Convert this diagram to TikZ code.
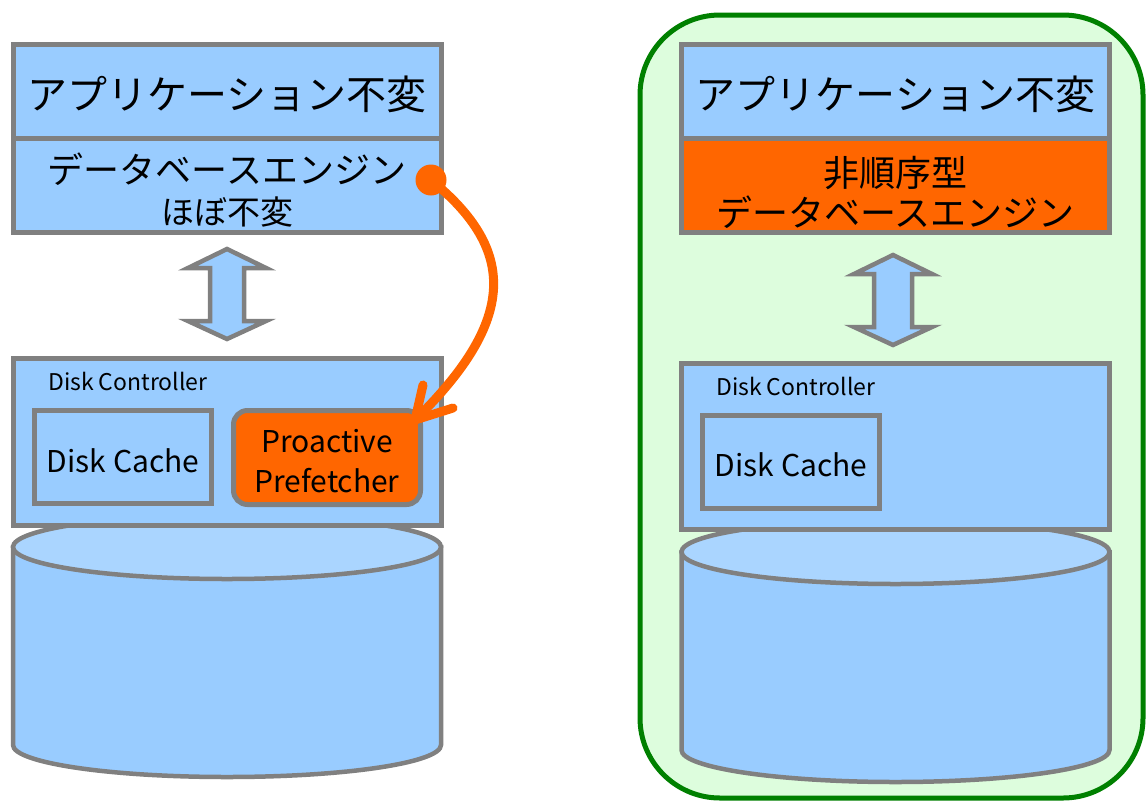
\documentclass[tikz,border=0pt]{standalone}
\usepackage{fontspec}
\setmainfont{Noto Sans CJK JP}
\definecolor{boxblue}{HTML}{99CCFF}
\definecolor{topblue}{HTML}{AAD5FF}
\definecolor{edgegray}{HTML}{808080}
\definecolor{hotorange}{HTML}{FF6600}
\definecolor{panelgreen}{HTML}{008000}
\definecolor{panelfill}{HTML}{DDFDDD}
\tikzset{
  layer/.style={draw=edgegray, fill=boxblue, line width=5pt, minimum width=428pt, minimum height=94pt, inner sep=0pt},
  ctrlbox/.style={layer, minimum height=167pt},
  cachebox/.style={draw=edgegray, fill=boxblue, line width=5pt, minimum width=177pt, minimum height=93pt, inner sep=0pt},
  prefbox/.style={draw=edgegray, fill=hotorange, line width=5pt, rounded corners=14pt, minimum width=187pt, minimum height=94pt, inner sep=0pt},
  txt/.style={anchor=base, inner sep=0pt, text=black},
  bigjp/.style={font=\fontsize{40}{48}\selectfont},
  midjp/.style={font=\fontsize{36}{42}\selectfont},
  smalljp/.style={font=\fontsize{33}{40}\selectfont},
  cachetxt/.style={font=\fontsize{30}{36}\selectfont},
  ctrltxt/.style={txt, anchor=base west, font=\fontsize{23}{27}\selectfont},
  updown/.style={draw=edgegray, fill=boxblue, line width=4.5pt, line join=miter},
  disk/.style={draw=edgegray, fill=boxblue, line width=4.5pt},
  disktop/.style={disk, fill=topblue},
  push/.style={draw=hotorange, line width=9pt, line cap=round, line join=round},
  panel/.style={draw=panelgreen, fill=panelfill, line width=5pt, rounded corners=80pt, inner sep=0pt},
}
\begin{document}
\begin{tikzpicture}[x=1pt, y=-1pt]
\useasboundingbox (0,0) rectangle (1147,803);

% ---------- left stack ----------
\node[layer] (appL) at (227,91) {};
\node[layer] (dbL) at (227,185) {};
\node[txt, bigjp] (appLtxt) at (227,109) {アプリケーション不変};
\node[txt, midjp] (dbLa) at (227,183) {データベースエンジン};
\node[txt, smalljp] (dbLb) at (227,224) {ほぼ不変};

\draw[updown] (227,249) -- (266,268) -- (244,268) -- (244,321) -- (266,321)
  -- (227,339) -- (188,321) -- (210,321) -- (210,268) -- (188,268) -- cycle;

\draw[disk] (13,547) -- (13,745) arc[start angle=180, end angle=0, x radius=214, y radius=32]
  -- (441,547) -- cycle;
\draw[disktop] (227,547) ellipse[x radius=214, y radius=32];

\node[ctrlbox] (dcL) at (227,441.5) {};
\node[ctrltxt] (dcLtxt) at (48,390) {Disk Controller};
\node[cachebox] (cacheL) at (123,457) {};
\node[txt, cachetxt] (cacheLtxt) at (123,472) {Disk Cache};
\node[prefbox] (prefL) at (327,457.5) {};
\node[txt, cachetxt] (prefLa) at (327,452) {Proactive};
\node[txt, cachetxt] (prefLb) at (327,492) {Prefetcher};

% prefetch hint from the engine down to the disk controller
\node[circle, fill=hotorange, minimum size=31pt, inner sep=0pt] (src) at (431,180) {};
\coordinate (tip) at (415,420);
\coordinate (barbA) at (423,385);
\coordinate (barbB) at (453,408);
\draw[push] (src.center) .. controls (517,250) and (517,320) .. (tip);
\draw[push] (barbA) -- (tip) -- (barbB);

% ---------- right stack ----------
\node[panel, minimum width=503pt, minimum height=783pt] (panelR) at (891.5,406.5) {};

\node[layer] (appR) at (895.5,91) {};
\node[layer, fill=hotorange] (dbR) at (895.5,185) {};
\node[txt, bigjp] (appRtxt) at (895.5,109) {アプリケーション不変};
\node[txt, midjp] (dbRa) at (895.5,186) {非順序型};
\node[txt, midjp] (dbRb) at (895.5,226) {データベースエンジン};

\draw[updown] (893,255) -- (932,274) -- (912,274) -- (912,327) -- (932,327)
  -- (893,345) -- (854,327) -- (874,327) -- (874,274) -- (854,274) -- cycle;

\draw[disk] (681.5,552) -- (681.5,750) arc[start angle=180, end angle=0, x radius=214, y radius=32]
  -- (1109.5,552) -- cycle;
\draw[disktop] (895.5,552) ellipse[x radius=214, y radius=32];

\node[ctrlbox, minimum height=166pt] (dcR) at (895.5,446.5) {};
\node[ctrltxt] (dcRtxt) at (716,395) {Disk Controller};
\node[cachebox] (cacheR) at (791,462) {};
\node[txt, cachetxt] (cacheRtxt) at (791,476) {Disk Cache};
\end{tikzpicture}
\end{document}
